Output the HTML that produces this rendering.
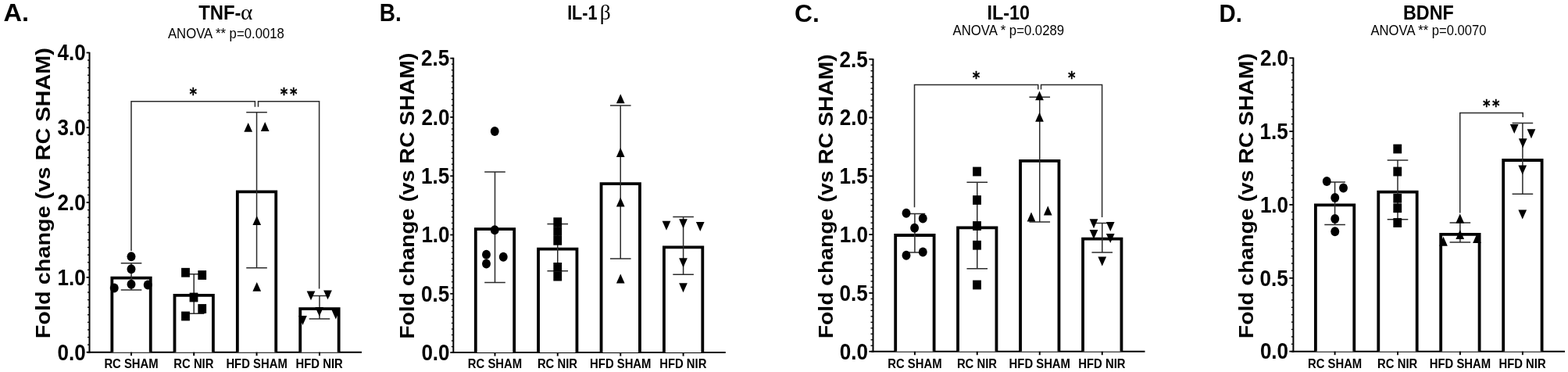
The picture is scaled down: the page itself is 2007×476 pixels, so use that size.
<!DOCTYPE html>
<html><head><meta charset="utf-8"><title>Cytokine and BDNF fold change</title>
<style>html,body{margin:0;padding:0;background:#fff;}svg{display:block;}</style></head>
<body><svg width="2007" height="476" viewBox="0 0 2007 476">
<defs><filter id="soft" x="-1%" y="-1%" width="102%" height="102%" color-interpolation-filters="sRGB"><feGaussianBlur stdDeviation="0.35"/></filter></defs>
<rect width="2007" height="476" fill="#fff"/>
<g filter="url(#soft)">
<line x1="110.60" y1="450.70" x2="114.50" y2="450.70" stroke="#000" stroke-width="1.8"/>
<line x1="112.00" y1="441.12" x2="114.50" y2="441.12" stroke="#000" stroke-width="1.3"/>
<line x1="112.00" y1="431.54" x2="114.50" y2="431.54" stroke="#000" stroke-width="1.3"/>
<line x1="112.00" y1="421.96" x2="114.50" y2="421.96" stroke="#000" stroke-width="1.3"/>
<line x1="112.00" y1="412.38" x2="114.50" y2="412.38" stroke="#000" stroke-width="1.3"/>
<line x1="112.00" y1="402.79" x2="114.50" y2="402.79" stroke="#000" stroke-width="1.3"/>
<line x1="112.00" y1="393.21" x2="114.50" y2="393.21" stroke="#000" stroke-width="1.3"/>
<line x1="112.00" y1="383.63" x2="114.50" y2="383.63" stroke="#000" stroke-width="1.3"/>
<line x1="112.00" y1="374.05" x2="114.50" y2="374.05" stroke="#000" stroke-width="1.3"/>
<line x1="112.00" y1="364.47" x2="114.50" y2="364.47" stroke="#000" stroke-width="1.3"/>
<line x1="110.60" y1="354.89" x2="114.50" y2="354.89" stroke="#000" stroke-width="1.8"/>
<line x1="112.00" y1="345.31" x2="114.50" y2="345.31" stroke="#000" stroke-width="1.3"/>
<line x1="112.00" y1="335.72" x2="114.50" y2="335.72" stroke="#000" stroke-width="1.3"/>
<line x1="112.00" y1="326.14" x2="114.50" y2="326.14" stroke="#000" stroke-width="1.3"/>
<line x1="112.00" y1="316.56" x2="114.50" y2="316.56" stroke="#000" stroke-width="1.3"/>
<line x1="112.00" y1="306.98" x2="114.50" y2="306.98" stroke="#000" stroke-width="1.3"/>
<line x1="112.00" y1="297.40" x2="114.50" y2="297.40" stroke="#000" stroke-width="1.3"/>
<line x1="112.00" y1="287.82" x2="114.50" y2="287.82" stroke="#000" stroke-width="1.3"/>
<line x1="112.00" y1="278.24" x2="114.50" y2="278.24" stroke="#000" stroke-width="1.3"/>
<line x1="112.00" y1="268.66" x2="114.50" y2="268.66" stroke="#000" stroke-width="1.3"/>
<line x1="110.60" y1="259.07" x2="114.50" y2="259.07" stroke="#000" stroke-width="1.8"/>
<line x1="112.00" y1="249.49" x2="114.50" y2="249.49" stroke="#000" stroke-width="1.3"/>
<line x1="112.00" y1="239.91" x2="114.50" y2="239.91" stroke="#000" stroke-width="1.3"/>
<line x1="112.00" y1="230.33" x2="114.50" y2="230.33" stroke="#000" stroke-width="1.3"/>
<line x1="112.00" y1="220.75" x2="114.50" y2="220.75" stroke="#000" stroke-width="1.3"/>
<line x1="112.00" y1="211.17" x2="114.50" y2="211.17" stroke="#000" stroke-width="1.3"/>
<line x1="112.00" y1="201.59" x2="114.50" y2="201.59" stroke="#000" stroke-width="1.3"/>
<line x1="112.00" y1="192.01" x2="114.50" y2="192.01" stroke="#000" stroke-width="1.3"/>
<line x1="112.00" y1="182.42" x2="114.50" y2="182.42" stroke="#000" stroke-width="1.3"/>
<line x1="112.00" y1="172.84" x2="114.50" y2="172.84" stroke="#000" stroke-width="1.3"/>
<line x1="110.60" y1="163.26" x2="114.50" y2="163.26" stroke="#000" stroke-width="1.8"/>
<line x1="112.00" y1="153.68" x2="114.50" y2="153.68" stroke="#000" stroke-width="1.3"/>
<line x1="112.00" y1="144.10" x2="114.50" y2="144.10" stroke="#000" stroke-width="1.3"/>
<line x1="112.00" y1="134.52" x2="114.50" y2="134.52" stroke="#000" stroke-width="1.3"/>
<line x1="112.00" y1="124.94" x2="114.50" y2="124.94" stroke="#000" stroke-width="1.3"/>
<line x1="112.00" y1="115.36" x2="114.50" y2="115.36" stroke="#000" stroke-width="1.3"/>
<line x1="112.00" y1="105.77" x2="114.50" y2="105.77" stroke="#000" stroke-width="1.3"/>
<line x1="112.00" y1="96.19" x2="114.50" y2="96.19" stroke="#000" stroke-width="1.3"/>
<line x1="112.00" y1="86.61" x2="114.50" y2="86.61" stroke="#000" stroke-width="1.3"/>
<line x1="112.00" y1="77.03" x2="114.50" y2="77.03" stroke="#000" stroke-width="1.3"/>
<line x1="110.60" y1="67.45" x2="114.50" y2="67.45" stroke="#000" stroke-width="1.8"/>
<line x1="114.50" y1="66.65" x2="114.50" y2="451.70" stroke="#000" stroke-width="2.0"/>
<line x1="112.00" y1="450.70" x2="463.00" y2="450.70" stroke="#000" stroke-width="2.0"/>
<text x="73.49" y="460.50" font-family="'Liberation Sans', Arial, sans-serif" font-weight="bold" font-size="28.8" textLength="36.23" lengthAdjust="spacingAndGlyphs">0.0</text>
<text x="73.49" y="364.69" font-family="'Liberation Sans', Arial, sans-serif" font-weight="bold" font-size="28.8" textLength="36.23" lengthAdjust="spacingAndGlyphs">1.0</text>
<text x="73.49" y="268.88" font-family="'Liberation Sans', Arial, sans-serif" font-weight="bold" font-size="28.8" textLength="36.23" lengthAdjust="spacingAndGlyphs">2.0</text>
<text x="73.49" y="173.06" font-family="'Liberation Sans', Arial, sans-serif" font-weight="bold" font-size="28.8" textLength="36.23" lengthAdjust="spacingAndGlyphs">3.0</text>
<text x="73.49" y="77.25" font-family="'Liberation Sans', Arial, sans-serif" font-weight="bold" font-size="28.8" textLength="36.23" lengthAdjust="spacingAndGlyphs">4.0</text>
<path d="M143.35,450.70 V355.65 H192.75 V450.70" fill="#fff" stroke="#000" stroke-width="3.8" stroke-linejoin="miter"/>
<line x1="168.05" y1="450.70" x2="168.05" y2="455.20" stroke="#000" stroke-width="2.0"/>
<path d="M223.50,450.70 V377.80 H272.90 V450.70" fill="#fff" stroke="#000" stroke-width="3.8" stroke-linejoin="miter"/>
<line x1="248.20" y1="450.70" x2="248.20" y2="455.20" stroke="#000" stroke-width="2.0"/>
<path d="M303.85,450.70 V245.40 H353.25 V450.70" fill="#fff" stroke="#000" stroke-width="3.8" stroke-linejoin="miter"/>
<line x1="328.55" y1="450.70" x2="328.55" y2="455.20" stroke="#000" stroke-width="2.0"/>
<path d="M384.25,450.70 V395.20 H433.65 V450.70" fill="#fff" stroke="#000" stroke-width="3.8" stroke-linejoin="miter"/>
<line x1="408.95" y1="450.70" x2="408.95" y2="455.20" stroke="#000" stroke-width="2.0"/>
<text x="133.40" y="470.60" font-family="'Liberation Sans', Arial, sans-serif" font-weight="bold" font-size="16.5" textLength="69.30" lengthAdjust="spacingAndGlyphs">RC SHAM</text>
<text x="222.32" y="470.60" font-family="'Liberation Sans', Arial, sans-serif" font-weight="bold" font-size="16.5" textLength="51.15" lengthAdjust="spacingAndGlyphs">RC NIR</text>
<text x="289.40" y="470.60" font-family="'Liberation Sans', Arial, sans-serif" font-weight="bold" font-size="16.5" textLength="78.37" lengthAdjust="spacingAndGlyphs">HFD SHAM</text>
<text x="378.53" y="470.60" font-family="'Liberation Sans', Arial, sans-serif" font-weight="bold" font-size="16.5" textLength="60.22" lengthAdjust="spacingAndGlyphs">HFD NIR</text>
<line x1="168.05" y1="336.75" x2="168.05" y2="371.00" stroke="#2b2b2b" stroke-width="1.5"/>
<line x1="154.75" y1="336.75" x2="181.35" y2="336.75" stroke="#2b2b2b" stroke-width="1.5"/>
<line x1="154.75" y1="371.00" x2="181.35" y2="371.00" stroke="#2b2b2b" stroke-width="1.5"/>
<line x1="248.20" y1="350.75" x2="248.20" y2="401.25" stroke="#2b2b2b" stroke-width="1.5"/>
<line x1="234.90" y1="350.75" x2="261.50" y2="350.75" stroke="#2b2b2b" stroke-width="1.5"/>
<line x1="234.90" y1="401.25" x2="261.50" y2="401.25" stroke="#2b2b2b" stroke-width="1.5"/>
<line x1="328.55" y1="143.70" x2="328.55" y2="342.75" stroke="#2b2b2b" stroke-width="1.5"/>
<line x1="315.25" y1="143.70" x2="341.85" y2="143.70" stroke="#2b2b2b" stroke-width="1.5"/>
<line x1="315.25" y1="342.75" x2="341.85" y2="342.75" stroke="#2b2b2b" stroke-width="1.5"/>
<line x1="408.95" y1="378.50" x2="408.95" y2="408.00" stroke="#2b2b2b" stroke-width="1.5"/>
<line x1="395.65" y1="378.50" x2="422.25" y2="378.50" stroke="#2b2b2b" stroke-width="1.5"/>
<line x1="395.65" y1="408.00" x2="422.25" y2="408.00" stroke="#2b2b2b" stroke-width="1.5"/>
<polyline points="168.00,321.00 168.00,129.70 326.40,129.70 326.40,136.80" fill="none" stroke="#2b2b2b" stroke-width="1.5" stroke-linejoin="miter"/>
<polyline points="330.50,136.80 330.50,129.70 408.60,129.70 408.60,369.50" fill="none" stroke="#2b2b2b" stroke-width="1.5" stroke-linejoin="miter"/>
<ellipse cx="168.00" cy="328.25" rx="5.45" ry="6.0" fill="#000"/>
<ellipse cx="168.00" cy="344.25" rx="5.45" ry="6.0" fill="#000"/>
<ellipse cx="168.00" cy="363.75" rx="5.45" ry="6.0" fill="#000"/>
<ellipse cx="146.25" cy="368.50" rx="5.45" ry="6.0" fill="#000"/>
<ellipse cx="189.25" cy="364.50" rx="5.45" ry="6.0" fill="#000"/>
<rect x="232.10" y="342.85" width="10.80" height="11.80" fill="#000"/>
<rect x="253.35" y="346.10" width="10.80" height="11.80" fill="#000"/>
<rect x="242.60" y="374.60" width="10.80" height="11.80" fill="#000"/>
<rect x="253.35" y="389.10" width="10.80" height="11.80" fill="#000"/>
<rect x="232.10" y="398.60" width="10.80" height="11.80" fill="#000"/>
<polygon points="317.70,156.90 312.35,168.70 323.05,168.70" fill="#000"/>
<polygon points="339.20,156.10 333.85,167.90 344.55,167.90" fill="#000"/>
<polygon points="328.75,276.20 323.40,288.00 334.10,288.00" fill="#000"/>
<polygon points="328.75,361.00 323.40,372.80 334.10,372.80" fill="#000"/>
<polygon points="398.00,384.20 392.65,372.40 403.35,372.40" fill="#000"/>
<polygon points="419.50,383.20 414.15,371.40 424.85,371.40" fill="#000"/>
<polygon points="408.75,404.80 403.40,393.00 414.10,393.00" fill="#000"/>
<polygon points="429.80,408.40 424.45,396.60 435.15,396.60" fill="#000"/>
<polygon points="387.50,415.90 382.15,404.10 392.85,404.10" fill="#000"/>
<text transform="translate(0,128.16) scale(1,1.19)" x="247.35" y="0" text-anchor="middle" font-family="'DejaVu Sans', sans-serif" font-weight="bold" font-size="18.2" stroke="#000" stroke-width="0.3">*</text>
<text transform="translate(0,128.16) scale(1,1.19)" x="363.62 375.77" y="0" text-anchor="middle" font-family="'DejaVu Sans', sans-serif" font-weight="bold" font-size="18.2" stroke="#000" stroke-width="0.3">**</text>
<text transform="translate(63.60,433.29) rotate(-90)" x="0" y="0" font-family="'Liberation Sans', Arial, sans-serif" font-weight="bold" font-size="26" textLength="372.25" lengthAdjust="spacingAndGlyphs">Fold change (vs RC SHAM)</text>
<text x="4.59" y="26.80" font-family="'Liberation Sans', Arial, sans-serif" font-weight="bold" font-size="32.2" textLength="32.53" lengthAdjust="spacingAndGlyphs">A.</text>
<text x="254.13" y="25.00" font-family="'Liberation Sans', Arial, sans-serif" font-weight="bold" font-size="26.5" textLength="54.41" lengthAdjust="spacingAndGlyphs">TNF-</text>
<text x="307.93" y="25.00" font-family="'Liberation Serif', 'Times New Roman', serif" font-weight="normal" font-size="27.5" textLength="15.42" lengthAdjust="spacingAndGlyphs">α</text>
<text x="214.91" y="48.50" font-family="'Liberation Sans', Arial, sans-serif" font-weight="normal" font-size="17.7" textLength="148.96" lengthAdjust="spacingAndGlyphs">ANOVA ** p=0.0018</text>
<line x1="576.30" y1="451.10" x2="580.30" y2="451.10" stroke="#000" stroke-width="1.8"/>
<line x1="577.80" y1="443.57" x2="580.30" y2="443.57" stroke="#000" stroke-width="1.3"/>
<line x1="577.80" y1="436.04" x2="580.30" y2="436.04" stroke="#000" stroke-width="1.3"/>
<line x1="577.80" y1="428.51" x2="580.30" y2="428.51" stroke="#000" stroke-width="1.3"/>
<line x1="577.80" y1="420.98" x2="580.30" y2="420.98" stroke="#000" stroke-width="1.3"/>
<line x1="577.80" y1="413.45" x2="580.30" y2="413.45" stroke="#000" stroke-width="1.3"/>
<line x1="577.80" y1="405.92" x2="580.30" y2="405.92" stroke="#000" stroke-width="1.3"/>
<line x1="577.80" y1="398.39" x2="580.30" y2="398.39" stroke="#000" stroke-width="1.3"/>
<line x1="577.80" y1="390.86" x2="580.30" y2="390.86" stroke="#000" stroke-width="1.3"/>
<line x1="577.80" y1="383.33" x2="580.30" y2="383.33" stroke="#000" stroke-width="1.3"/>
<line x1="576.30" y1="375.80" x2="580.30" y2="375.80" stroke="#000" stroke-width="1.8"/>
<line x1="577.80" y1="368.27" x2="580.30" y2="368.27" stroke="#000" stroke-width="1.3"/>
<line x1="577.80" y1="360.74" x2="580.30" y2="360.74" stroke="#000" stroke-width="1.3"/>
<line x1="577.80" y1="353.21" x2="580.30" y2="353.21" stroke="#000" stroke-width="1.3"/>
<line x1="577.80" y1="345.68" x2="580.30" y2="345.68" stroke="#000" stroke-width="1.3"/>
<line x1="577.80" y1="338.15" x2="580.30" y2="338.15" stroke="#000" stroke-width="1.3"/>
<line x1="577.80" y1="330.62" x2="580.30" y2="330.62" stroke="#000" stroke-width="1.3"/>
<line x1="577.80" y1="323.09" x2="580.30" y2="323.09" stroke="#000" stroke-width="1.3"/>
<line x1="577.80" y1="315.56" x2="580.30" y2="315.56" stroke="#000" stroke-width="1.3"/>
<line x1="577.80" y1="308.03" x2="580.30" y2="308.03" stroke="#000" stroke-width="1.3"/>
<line x1="576.30" y1="300.50" x2="580.30" y2="300.50" stroke="#000" stroke-width="1.8"/>
<line x1="577.80" y1="292.97" x2="580.30" y2="292.97" stroke="#000" stroke-width="1.3"/>
<line x1="577.80" y1="285.44" x2="580.30" y2="285.44" stroke="#000" stroke-width="1.3"/>
<line x1="577.80" y1="277.91" x2="580.30" y2="277.91" stroke="#000" stroke-width="1.3"/>
<line x1="577.80" y1="270.38" x2="580.30" y2="270.38" stroke="#000" stroke-width="1.3"/>
<line x1="577.80" y1="262.85" x2="580.30" y2="262.85" stroke="#000" stroke-width="1.3"/>
<line x1="577.80" y1="255.32" x2="580.30" y2="255.32" stroke="#000" stroke-width="1.3"/>
<line x1="577.80" y1="247.79" x2="580.30" y2="247.79" stroke="#000" stroke-width="1.3"/>
<line x1="577.80" y1="240.26" x2="580.30" y2="240.26" stroke="#000" stroke-width="1.3"/>
<line x1="577.80" y1="232.73" x2="580.30" y2="232.73" stroke="#000" stroke-width="1.3"/>
<line x1="576.30" y1="225.20" x2="580.30" y2="225.20" stroke="#000" stroke-width="1.8"/>
<line x1="577.80" y1="217.67" x2="580.30" y2="217.67" stroke="#000" stroke-width="1.3"/>
<line x1="577.80" y1="210.14" x2="580.30" y2="210.14" stroke="#000" stroke-width="1.3"/>
<line x1="577.80" y1="202.61" x2="580.30" y2="202.61" stroke="#000" stroke-width="1.3"/>
<line x1="577.80" y1="195.08" x2="580.30" y2="195.08" stroke="#000" stroke-width="1.3"/>
<line x1="577.80" y1="187.55" x2="580.30" y2="187.55" stroke="#000" stroke-width="1.3"/>
<line x1="577.80" y1="180.02" x2="580.30" y2="180.02" stroke="#000" stroke-width="1.3"/>
<line x1="577.80" y1="172.49" x2="580.30" y2="172.49" stroke="#000" stroke-width="1.3"/>
<line x1="577.80" y1="164.96" x2="580.30" y2="164.96" stroke="#000" stroke-width="1.3"/>
<line x1="577.80" y1="157.43" x2="580.30" y2="157.43" stroke="#000" stroke-width="1.3"/>
<line x1="576.30" y1="149.90" x2="580.30" y2="149.90" stroke="#000" stroke-width="1.8"/>
<line x1="577.80" y1="142.37" x2="580.30" y2="142.37" stroke="#000" stroke-width="1.3"/>
<line x1="577.80" y1="134.84" x2="580.30" y2="134.84" stroke="#000" stroke-width="1.3"/>
<line x1="577.80" y1="127.31" x2="580.30" y2="127.31" stroke="#000" stroke-width="1.3"/>
<line x1="577.80" y1="119.78" x2="580.30" y2="119.78" stroke="#000" stroke-width="1.3"/>
<line x1="577.80" y1="112.25" x2="580.30" y2="112.25" stroke="#000" stroke-width="1.3"/>
<line x1="577.80" y1="104.72" x2="580.30" y2="104.72" stroke="#000" stroke-width="1.3"/>
<line x1="577.80" y1="97.19" x2="580.30" y2="97.19" stroke="#000" stroke-width="1.3"/>
<line x1="577.80" y1="89.66" x2="580.30" y2="89.66" stroke="#000" stroke-width="1.3"/>
<line x1="577.80" y1="82.13" x2="580.30" y2="82.13" stroke="#000" stroke-width="1.3"/>
<line x1="576.30" y1="74.60" x2="580.30" y2="74.60" stroke="#000" stroke-width="1.8"/>
<line x1="580.30" y1="73.80" x2="580.30" y2="452.10" stroke="#000" stroke-width="2.0"/>
<line x1="577.80" y1="451.10" x2="928.75" y2="451.10" stroke="#000" stroke-width="2.0"/>
<text x="539.39" y="460.90" font-family="'Liberation Sans', Arial, sans-serif" font-weight="bold" font-size="28.8" textLength="36.23" lengthAdjust="spacingAndGlyphs">0.0</text>
<text x="539.02" y="385.60" font-family="'Liberation Sans', Arial, sans-serif" font-weight="bold" font-size="28.8" textLength="36.23" lengthAdjust="spacingAndGlyphs">0.5</text>
<text x="539.39" y="310.30" font-family="'Liberation Sans', Arial, sans-serif" font-weight="bold" font-size="28.8" textLength="36.23" lengthAdjust="spacingAndGlyphs">1.0</text>
<text x="539.02" y="235.00" font-family="'Liberation Sans', Arial, sans-serif" font-weight="bold" font-size="28.8" textLength="36.23" lengthAdjust="spacingAndGlyphs">1.5</text>
<text x="539.39" y="159.70" font-family="'Liberation Sans', Arial, sans-serif" font-weight="bold" font-size="28.8" textLength="36.23" lengthAdjust="spacingAndGlyphs">2.0</text>
<text x="539.02" y="84.40" font-family="'Liberation Sans', Arial, sans-serif" font-weight="bold" font-size="28.8" textLength="36.23" lengthAdjust="spacingAndGlyphs">2.5</text>
<path d="M608.80,451.10 V293.15 H658.20 V451.10" fill="#fff" stroke="#000" stroke-width="3.8" stroke-linejoin="miter"/>
<line x1="633.50" y1="451.10" x2="633.50" y2="455.60" stroke="#000" stroke-width="2.0"/>
<path d="M689.05,451.10 V318.60 H738.45 V451.10" fill="#fff" stroke="#000" stroke-width="3.8" stroke-linejoin="miter"/>
<line x1="713.75" y1="451.10" x2="713.75" y2="455.60" stroke="#000" stroke-width="2.0"/>
<path d="M769.55,451.10 V235.15 H818.95 V451.10" fill="#fff" stroke="#000" stroke-width="3.8" stroke-linejoin="miter"/>
<line x1="794.25" y1="451.10" x2="794.25" y2="455.60" stroke="#000" stroke-width="2.0"/>
<path d="M849.90,451.10 V316.40 H899.30 V451.10" fill="#fff" stroke="#000" stroke-width="3.8" stroke-linejoin="miter"/>
<line x1="874.60" y1="451.10" x2="874.60" y2="455.60" stroke="#000" stroke-width="2.0"/>
<text x="598.85" y="470.60" font-family="'Liberation Sans', Arial, sans-serif" font-weight="bold" font-size="16.5" textLength="69.30" lengthAdjust="spacingAndGlyphs">RC SHAM</text>
<text x="687.88" y="470.60" font-family="'Liberation Sans', Arial, sans-serif" font-weight="bold" font-size="16.5" textLength="51.15" lengthAdjust="spacingAndGlyphs">RC NIR</text>
<text x="755.10" y="470.60" font-family="'Liberation Sans', Arial, sans-serif" font-weight="bold" font-size="16.5" textLength="78.37" lengthAdjust="spacingAndGlyphs">HFD SHAM</text>
<text x="844.18" y="470.60" font-family="'Liberation Sans', Arial, sans-serif" font-weight="bold" font-size="16.5" textLength="60.22" lengthAdjust="spacingAndGlyphs">HFD NIR</text>
<line x1="633.50" y1="220.00" x2="633.50" y2="361.50" stroke="#2b2b2b" stroke-width="1.5"/>
<line x1="620.20" y1="220.00" x2="646.80" y2="220.00" stroke="#2b2b2b" stroke-width="1.5"/>
<line x1="620.20" y1="361.50" x2="646.80" y2="361.50" stroke="#2b2b2b" stroke-width="1.5"/>
<line x1="713.75" y1="286.60" x2="713.75" y2="346.70" stroke="#2b2b2b" stroke-width="1.5"/>
<line x1="700.45" y1="286.60" x2="727.05" y2="286.60" stroke="#2b2b2b" stroke-width="1.5"/>
<line x1="700.45" y1="346.70" x2="727.05" y2="346.70" stroke="#2b2b2b" stroke-width="1.5"/>
<line x1="794.25" y1="135.00" x2="794.25" y2="331.00" stroke="#2b2b2b" stroke-width="1.5"/>
<line x1="780.95" y1="135.00" x2="807.55" y2="135.00" stroke="#2b2b2b" stroke-width="1.5"/>
<line x1="780.95" y1="331.00" x2="807.55" y2="331.00" stroke="#2b2b2b" stroke-width="1.5"/>
<line x1="874.60" y1="277.50" x2="874.60" y2="351.25" stroke="#2b2b2b" stroke-width="1.5"/>
<line x1="861.30" y1="277.50" x2="887.90" y2="277.50" stroke="#2b2b2b" stroke-width="1.5"/>
<line x1="861.30" y1="351.25" x2="887.90" y2="351.25" stroke="#2b2b2b" stroke-width="1.5"/>
<ellipse cx="633.25" cy="168.00" rx="5.45" ry="6.0" fill="#000"/>
<ellipse cx="633.25" cy="294.25" rx="5.45" ry="6.0" fill="#000"/>
<ellipse cx="622.50" cy="325.75" rx="5.45" ry="6.0" fill="#000"/>
<ellipse cx="622.50" cy="337.50" rx="5.45" ry="6.0" fill="#000"/>
<ellipse cx="644.25" cy="328.75" rx="5.45" ry="6.0" fill="#000"/>
<rect x="708.35" y="278.30" width="10.80" height="11.80" fill="#000"/>
<rect x="708.35" y="290.10" width="10.80" height="11.80" fill="#000"/>
<rect x="708.35" y="301.90" width="10.80" height="11.80" fill="#000"/>
<rect x="708.35" y="336.00" width="10.80" height="11.80" fill="#000"/>
<rect x="708.35" y="347.70" width="10.80" height="11.80" fill="#000"/>
<polygon points="794.25,120.35 788.90,132.15 799.60,132.15" fill="#000"/>
<polygon points="794.25,189.10 788.90,200.90 799.60,200.90" fill="#000"/>
<polygon points="794.25,252.60 788.90,264.40 799.60,264.40" fill="#000"/>
<polygon points="794.25,350.60 788.90,362.40 799.60,362.40" fill="#000"/>
<polygon points="853.00,294.65 847.65,282.85 858.35,282.85" fill="#000"/>
<polygon points="874.50,292.15 869.15,280.35 879.85,280.35" fill="#000"/>
<polygon points="896.25,295.90 890.90,284.10 901.60,284.10" fill="#000"/>
<polygon points="874.50,342.15 869.15,330.35 879.85,330.35" fill="#000"/>
<polygon points="874.50,374.15 869.15,362.35 879.85,362.35" fill="#000"/>
<text transform="translate(530.00,433.86) rotate(-90)" x="0" y="0" font-family="'Liberation Sans', Arial, sans-serif" font-weight="bold" font-size="26" textLength="366.30" lengthAdjust="spacingAndGlyphs">Fold change (vs RC SHAM)</text>
<text x="485.78" y="27.20" font-family="'Liberation Sans', Arial, sans-serif" font-weight="bold" font-size="32.2" textLength="28.03" lengthAdjust="spacingAndGlyphs">B.</text>
<text x="726.13" y="24.70" font-family="'Liberation Sans', Arial, sans-serif" font-weight="bold" font-size="26.5" textLength="38.34" lengthAdjust="spacingAndGlyphs">IL-1</text>
<text x="767.70" y="24.70" font-family="'Liberation Serif', 'Times New Roman', serif" font-weight="normal" font-size="27.5" textLength="13.99" lengthAdjust="spacingAndGlyphs">β</text>
<line x1="1112.30" y1="449.75" x2="1117.50" y2="449.75" stroke="#000" stroke-width="1.8"/>
<line x1="1114.50" y1="442.27" x2="1117.50" y2="442.27" stroke="#000" stroke-width="1.3"/>
<line x1="1114.50" y1="434.79" x2="1117.50" y2="434.79" stroke="#000" stroke-width="1.3"/>
<line x1="1114.50" y1="427.31" x2="1117.50" y2="427.31" stroke="#000" stroke-width="1.3"/>
<line x1="1114.50" y1="419.83" x2="1117.50" y2="419.83" stroke="#000" stroke-width="1.3"/>
<line x1="1114.50" y1="412.35" x2="1117.50" y2="412.35" stroke="#000" stroke-width="1.3"/>
<line x1="1114.50" y1="404.86" x2="1117.50" y2="404.86" stroke="#000" stroke-width="1.3"/>
<line x1="1114.50" y1="397.38" x2="1117.50" y2="397.38" stroke="#000" stroke-width="1.3"/>
<line x1="1114.50" y1="389.90" x2="1117.50" y2="389.90" stroke="#000" stroke-width="1.3"/>
<line x1="1114.50" y1="382.42" x2="1117.50" y2="382.42" stroke="#000" stroke-width="1.3"/>
<line x1="1112.30" y1="374.94" x2="1117.50" y2="374.94" stroke="#000" stroke-width="1.8"/>
<line x1="1114.50" y1="367.46" x2="1117.50" y2="367.46" stroke="#000" stroke-width="1.3"/>
<line x1="1114.50" y1="359.98" x2="1117.50" y2="359.98" stroke="#000" stroke-width="1.3"/>
<line x1="1114.50" y1="352.50" x2="1117.50" y2="352.50" stroke="#000" stroke-width="1.3"/>
<line x1="1114.50" y1="345.02" x2="1117.50" y2="345.02" stroke="#000" stroke-width="1.3"/>
<line x1="1114.50" y1="337.53" x2="1117.50" y2="337.53" stroke="#000" stroke-width="1.3"/>
<line x1="1114.50" y1="330.05" x2="1117.50" y2="330.05" stroke="#000" stroke-width="1.3"/>
<line x1="1114.50" y1="322.57" x2="1117.50" y2="322.57" stroke="#000" stroke-width="1.3"/>
<line x1="1114.50" y1="315.09" x2="1117.50" y2="315.09" stroke="#000" stroke-width="1.3"/>
<line x1="1114.50" y1="307.61" x2="1117.50" y2="307.61" stroke="#000" stroke-width="1.3"/>
<line x1="1112.30" y1="300.13" x2="1117.50" y2="300.13" stroke="#000" stroke-width="1.8"/>
<line x1="1114.50" y1="292.65" x2="1117.50" y2="292.65" stroke="#000" stroke-width="1.3"/>
<line x1="1114.50" y1="285.17" x2="1117.50" y2="285.17" stroke="#000" stroke-width="1.3"/>
<line x1="1114.50" y1="277.69" x2="1117.50" y2="277.69" stroke="#000" stroke-width="1.3"/>
<line x1="1114.50" y1="270.21" x2="1117.50" y2="270.21" stroke="#000" stroke-width="1.3"/>
<line x1="1114.50" y1="262.73" x2="1117.50" y2="262.73" stroke="#000" stroke-width="1.3"/>
<line x1="1114.50" y1="255.24" x2="1117.50" y2="255.24" stroke="#000" stroke-width="1.3"/>
<line x1="1114.50" y1="247.76" x2="1117.50" y2="247.76" stroke="#000" stroke-width="1.3"/>
<line x1="1114.50" y1="240.28" x2="1117.50" y2="240.28" stroke="#000" stroke-width="1.3"/>
<line x1="1114.50" y1="232.80" x2="1117.50" y2="232.80" stroke="#000" stroke-width="1.3"/>
<line x1="1112.30" y1="225.32" x2="1117.50" y2="225.32" stroke="#000" stroke-width="1.8"/>
<line x1="1114.50" y1="217.84" x2="1117.50" y2="217.84" stroke="#000" stroke-width="1.3"/>
<line x1="1114.50" y1="210.36" x2="1117.50" y2="210.36" stroke="#000" stroke-width="1.3"/>
<line x1="1114.50" y1="202.88" x2="1117.50" y2="202.88" stroke="#000" stroke-width="1.3"/>
<line x1="1114.50" y1="195.40" x2="1117.50" y2="195.40" stroke="#000" stroke-width="1.3"/>
<line x1="1114.50" y1="187.91" x2="1117.50" y2="187.91" stroke="#000" stroke-width="1.3"/>
<line x1="1114.50" y1="180.43" x2="1117.50" y2="180.43" stroke="#000" stroke-width="1.3"/>
<line x1="1114.50" y1="172.95" x2="1117.50" y2="172.95" stroke="#000" stroke-width="1.3"/>
<line x1="1114.50" y1="165.47" x2="1117.50" y2="165.47" stroke="#000" stroke-width="1.3"/>
<line x1="1114.50" y1="157.99" x2="1117.50" y2="157.99" stroke="#000" stroke-width="1.3"/>
<line x1="1112.30" y1="150.51" x2="1117.50" y2="150.51" stroke="#000" stroke-width="1.8"/>
<line x1="1114.50" y1="143.03" x2="1117.50" y2="143.03" stroke="#000" stroke-width="1.3"/>
<line x1="1114.50" y1="135.55" x2="1117.50" y2="135.55" stroke="#000" stroke-width="1.3"/>
<line x1="1114.50" y1="128.07" x2="1117.50" y2="128.07" stroke="#000" stroke-width="1.3"/>
<line x1="1114.50" y1="120.59" x2="1117.50" y2="120.59" stroke="#000" stroke-width="1.3"/>
<line x1="1114.50" y1="113.11" x2="1117.50" y2="113.11" stroke="#000" stroke-width="1.3"/>
<line x1="1114.50" y1="105.62" x2="1117.50" y2="105.62" stroke="#000" stroke-width="1.3"/>
<line x1="1114.50" y1="98.14" x2="1117.50" y2="98.14" stroke="#000" stroke-width="1.3"/>
<line x1="1114.50" y1="90.66" x2="1117.50" y2="90.66" stroke="#000" stroke-width="1.3"/>
<line x1="1114.50" y1="83.18" x2="1117.50" y2="83.18" stroke="#000" stroke-width="1.3"/>
<line x1="1112.30" y1="75.70" x2="1117.50" y2="75.70" stroke="#000" stroke-width="1.8"/>
<line x1="1117.50" y1="74.90" x2="1117.50" y2="450.75" stroke="#000" stroke-width="2.0"/>
<line x1="1115.00" y1="449.75" x2="1465.50" y2="449.75" stroke="#000" stroke-width="2.0"/>
<text x="1074.79" y="459.55" font-family="'Liberation Sans', Arial, sans-serif" font-weight="bold" font-size="28.8" textLength="36.23" lengthAdjust="spacingAndGlyphs">0.0</text>
<text x="1074.42" y="384.74" font-family="'Liberation Sans', Arial, sans-serif" font-weight="bold" font-size="28.8" textLength="36.23" lengthAdjust="spacingAndGlyphs">0.5</text>
<text x="1074.79" y="309.93" font-family="'Liberation Sans', Arial, sans-serif" font-weight="bold" font-size="28.8" textLength="36.23" lengthAdjust="spacingAndGlyphs">1.0</text>
<text x="1074.42" y="235.12" font-family="'Liberation Sans', Arial, sans-serif" font-weight="bold" font-size="28.8" textLength="36.23" lengthAdjust="spacingAndGlyphs">1.5</text>
<text x="1074.79" y="160.31" font-family="'Liberation Sans', Arial, sans-serif" font-weight="bold" font-size="28.8" textLength="36.23" lengthAdjust="spacingAndGlyphs">2.0</text>
<text x="1074.42" y="85.50" font-family="'Liberation Sans', Arial, sans-serif" font-weight="bold" font-size="28.8" textLength="36.23" lengthAdjust="spacingAndGlyphs">2.5</text>
<path d="M1146.20,449.75 V301.00 H1195.60 V449.75" fill="#fff" stroke="#000" stroke-width="3.8" stroke-linejoin="miter"/>
<line x1="1170.90" y1="449.75" x2="1170.90" y2="454.25" stroke="#000" stroke-width="2.0"/>
<path d="M1226.05,449.75 V291.40 H1275.45 V449.75" fill="#fff" stroke="#000" stroke-width="3.8" stroke-linejoin="miter"/>
<line x1="1250.75" y1="449.75" x2="1250.75" y2="454.25" stroke="#000" stroke-width="2.0"/>
<path d="M1306.05,449.75 V205.90 H1355.45 V449.75" fill="#fff" stroke="#000" stroke-width="3.8" stroke-linejoin="miter"/>
<line x1="1330.75" y1="449.75" x2="1330.75" y2="454.25" stroke="#000" stroke-width="2.0"/>
<path d="M1386.05,449.75 V305.65 H1435.45 V449.75" fill="#fff" stroke="#000" stroke-width="3.8" stroke-linejoin="miter"/>
<line x1="1410.75" y1="449.75" x2="1410.75" y2="454.25" stroke="#000" stroke-width="2.0"/>
<text x="1136.25" y="470.60" font-family="'Liberation Sans', Arial, sans-serif" font-weight="bold" font-size="16.5" textLength="69.30" lengthAdjust="spacingAndGlyphs">RC SHAM</text>
<text x="1224.88" y="470.60" font-family="'Liberation Sans', Arial, sans-serif" font-weight="bold" font-size="16.5" textLength="51.15" lengthAdjust="spacingAndGlyphs">RC NIR</text>
<text x="1291.60" y="470.60" font-family="'Liberation Sans', Arial, sans-serif" font-weight="bold" font-size="16.5" textLength="78.37" lengthAdjust="spacingAndGlyphs">HFD SHAM</text>
<text x="1380.33" y="470.60" font-family="'Liberation Sans', Arial, sans-serif" font-weight="bold" font-size="16.5" textLength="60.22" lengthAdjust="spacingAndGlyphs">HFD NIR</text>
<line x1="1170.90" y1="273.50" x2="1170.90" y2="323.00" stroke="#2b2b2b" stroke-width="1.5"/>
<line x1="1157.60" y1="273.50" x2="1184.20" y2="273.50" stroke="#2b2b2b" stroke-width="1.5"/>
<line x1="1157.60" y1="323.00" x2="1184.20" y2="323.00" stroke="#2b2b2b" stroke-width="1.5"/>
<line x1="1250.75" y1="233.25" x2="1250.75" y2="343.75" stroke="#2b2b2b" stroke-width="1.5"/>
<line x1="1237.45" y1="233.25" x2="1264.05" y2="233.25" stroke="#2b2b2b" stroke-width="1.5"/>
<line x1="1237.45" y1="343.75" x2="1264.05" y2="343.75" stroke="#2b2b2b" stroke-width="1.5"/>
<line x1="1330.75" y1="124.25" x2="1330.75" y2="284.00" stroke="#2b2b2b" stroke-width="1.5"/>
<line x1="1317.45" y1="124.25" x2="1344.05" y2="124.25" stroke="#2b2b2b" stroke-width="1.5"/>
<line x1="1317.45" y1="284.00" x2="1344.05" y2="284.00" stroke="#2b2b2b" stroke-width="1.5"/>
<line x1="1410.75" y1="285.50" x2="1410.75" y2="323.00" stroke="#2b2b2b" stroke-width="1.5"/>
<line x1="1397.45" y1="285.50" x2="1424.05" y2="285.50" stroke="#2b2b2b" stroke-width="1.5"/>
<line x1="1397.45" y1="323.00" x2="1424.05" y2="323.00" stroke="#2b2b2b" stroke-width="1.5"/>
<polyline points="1170.50,265.25 1170.50,108.40 1328.75,108.40 1328.75,114.60" fill="none" stroke="#2b2b2b" stroke-width="1.5" stroke-linejoin="miter"/>
<polyline points="1332.50,114.60 1332.50,108.40 1410.60,108.40 1410.60,278.00" fill="none" stroke="#2b2b2b" stroke-width="1.5" stroke-linejoin="miter"/>
<ellipse cx="1160.00" cy="272.75" rx="5.45" ry="6.0" fill="#000"/>
<ellipse cx="1181.25" cy="279.50" rx="5.45" ry="6.0" fill="#000"/>
<ellipse cx="1170.60" cy="291.75" rx="5.45" ry="6.0" fill="#000"/>
<ellipse cx="1160.00" cy="326.75" rx="5.45" ry="6.0" fill="#000"/>
<ellipse cx="1181.25" cy="322.50" rx="5.45" ry="6.0" fill="#000"/>
<rect x="1245.10" y="213.60" width="10.80" height="11.80" fill="#000"/>
<rect x="1245.10" y="250.10" width="10.80" height="11.80" fill="#000"/>
<rect x="1245.10" y="283.10" width="10.80" height="11.80" fill="#000"/>
<rect x="1245.10" y="307.85" width="10.80" height="11.80" fill="#000"/>
<rect x="1245.10" y="358.60" width="10.80" height="11.80" fill="#000"/>
<polygon points="1330.50,116.40 1325.15,128.20 1335.85,128.20" fill="#000"/>
<polygon points="1330.50,143.85 1325.15,155.65 1335.85,155.65" fill="#000"/>
<polygon points="1320.00,271.60 1314.65,283.40 1325.35,283.40" fill="#000"/>
<polygon points="1341.25,263.60 1335.90,275.40 1346.60,275.40" fill="#000"/>
<polygon points="1400.00,292.15 1394.65,280.35 1405.35,280.35" fill="#000"/>
<polygon points="1421.25,295.90 1415.90,284.10 1426.60,284.10" fill="#000"/>
<polygon points="1400.00,305.90 1394.65,294.10 1405.35,294.10" fill="#000"/>
<polygon points="1421.25,310.90 1415.90,299.10 1426.60,299.10" fill="#000"/>
<polygon points="1410.75,340.40 1405.40,328.60 1416.10,328.60" fill="#000"/>
<text transform="translate(0,106.76) scale(1,1.19)" x="1249.50" y="0" text-anchor="middle" font-family="'DejaVu Sans', sans-serif" font-weight="bold" font-size="18.2" stroke="#000" stroke-width="0.3">*</text>
<text transform="translate(0,106.76) scale(1,1.19)" x="1371.65" y="0" text-anchor="middle" font-family="'DejaVu Sans', sans-serif" font-weight="bold" font-size="18.2" stroke="#000" stroke-width="0.3">*</text>
<text transform="translate(1065.80,433.15) rotate(-90)" x="0" y="0" font-family="'Liberation Sans', Arial, sans-serif" font-weight="bold" font-size="26" textLength="363.87" lengthAdjust="spacingAndGlyphs">Fold change (vs RC SHAM)</text>
<text x="1017.02" y="27.90" font-family="'Liberation Sans', Arial, sans-serif" font-weight="bold" font-size="32.2" textLength="31.75" lengthAdjust="spacingAndGlyphs">C.</text>
<text x="1263.41" y="24.70" font-family="'Liberation Sans', Arial, sans-serif" font-weight="bold" font-size="26.5" textLength="54.51" lengthAdjust="spacingAndGlyphs">IL-10</text>
<text x="1219.61" y="44.60" font-family="'Liberation Sans', Arial, sans-serif" font-weight="normal" font-size="17.7" textLength="142.47" lengthAdjust="spacingAndGlyphs">ANOVA * p=0.0289</text>
<line x1="1650.30" y1="449.66" x2="1655.40" y2="449.66" stroke="#000" stroke-width="1.8"/>
<line x1="1652.80" y1="440.27" x2="1655.40" y2="440.27" stroke="#000" stroke-width="1.3"/>
<line x1="1652.80" y1="430.89" x2="1655.40" y2="430.89" stroke="#000" stroke-width="1.3"/>
<line x1="1652.80" y1="421.50" x2="1655.40" y2="421.50" stroke="#000" stroke-width="1.3"/>
<line x1="1652.80" y1="412.12" x2="1655.40" y2="412.12" stroke="#000" stroke-width="1.3"/>
<line x1="1652.80" y1="402.73" x2="1655.40" y2="402.73" stroke="#000" stroke-width="1.3"/>
<line x1="1652.80" y1="393.35" x2="1655.40" y2="393.35" stroke="#000" stroke-width="1.3"/>
<line x1="1652.80" y1="383.96" x2="1655.40" y2="383.96" stroke="#000" stroke-width="1.3"/>
<line x1="1652.80" y1="374.58" x2="1655.40" y2="374.58" stroke="#000" stroke-width="1.3"/>
<line x1="1652.80" y1="365.19" x2="1655.40" y2="365.19" stroke="#000" stroke-width="1.3"/>
<line x1="1650.30" y1="355.81" x2="1655.40" y2="355.81" stroke="#000" stroke-width="1.8"/>
<line x1="1652.80" y1="346.42" x2="1655.40" y2="346.42" stroke="#000" stroke-width="1.3"/>
<line x1="1652.80" y1="337.04" x2="1655.40" y2="337.04" stroke="#000" stroke-width="1.3"/>
<line x1="1652.80" y1="327.65" x2="1655.40" y2="327.65" stroke="#000" stroke-width="1.3"/>
<line x1="1652.80" y1="318.27" x2="1655.40" y2="318.27" stroke="#000" stroke-width="1.3"/>
<line x1="1652.80" y1="308.88" x2="1655.40" y2="308.88" stroke="#000" stroke-width="1.3"/>
<line x1="1652.80" y1="299.50" x2="1655.40" y2="299.50" stroke="#000" stroke-width="1.3"/>
<line x1="1652.80" y1="290.11" x2="1655.40" y2="290.11" stroke="#000" stroke-width="1.3"/>
<line x1="1652.80" y1="280.73" x2="1655.40" y2="280.73" stroke="#000" stroke-width="1.3"/>
<line x1="1652.80" y1="271.34" x2="1655.40" y2="271.34" stroke="#000" stroke-width="1.3"/>
<line x1="1650.30" y1="261.96" x2="1655.40" y2="261.96" stroke="#000" stroke-width="1.8"/>
<line x1="1652.80" y1="252.57" x2="1655.40" y2="252.57" stroke="#000" stroke-width="1.3"/>
<line x1="1652.80" y1="243.18" x2="1655.40" y2="243.18" stroke="#000" stroke-width="1.3"/>
<line x1="1652.80" y1="233.80" x2="1655.40" y2="233.80" stroke="#000" stroke-width="1.3"/>
<line x1="1652.80" y1="224.41" x2="1655.40" y2="224.41" stroke="#000" stroke-width="1.3"/>
<line x1="1652.80" y1="215.03" x2="1655.40" y2="215.03" stroke="#000" stroke-width="1.3"/>
<line x1="1652.80" y1="205.64" x2="1655.40" y2="205.64" stroke="#000" stroke-width="1.3"/>
<line x1="1652.80" y1="196.26" x2="1655.40" y2="196.26" stroke="#000" stroke-width="1.3"/>
<line x1="1652.80" y1="186.87" x2="1655.40" y2="186.87" stroke="#000" stroke-width="1.3"/>
<line x1="1652.80" y1="177.49" x2="1655.40" y2="177.49" stroke="#000" stroke-width="1.3"/>
<line x1="1650.30" y1="168.10" x2="1655.40" y2="168.10" stroke="#000" stroke-width="1.8"/>
<line x1="1652.80" y1="158.72" x2="1655.40" y2="158.72" stroke="#000" stroke-width="1.3"/>
<line x1="1652.80" y1="149.33" x2="1655.40" y2="149.33" stroke="#000" stroke-width="1.3"/>
<line x1="1652.80" y1="139.95" x2="1655.40" y2="139.95" stroke="#000" stroke-width="1.3"/>
<line x1="1652.80" y1="130.56" x2="1655.40" y2="130.56" stroke="#000" stroke-width="1.3"/>
<line x1="1652.80" y1="121.18" x2="1655.40" y2="121.18" stroke="#000" stroke-width="1.3"/>
<line x1="1652.80" y1="111.79" x2="1655.40" y2="111.79" stroke="#000" stroke-width="1.3"/>
<line x1="1652.80" y1="102.41" x2="1655.40" y2="102.41" stroke="#000" stroke-width="1.3"/>
<line x1="1652.80" y1="93.02" x2="1655.40" y2="93.02" stroke="#000" stroke-width="1.3"/>
<line x1="1652.80" y1="83.64" x2="1655.40" y2="83.64" stroke="#000" stroke-width="1.3"/>
<line x1="1650.30" y1="74.25" x2="1655.40" y2="74.25" stroke="#000" stroke-width="1.8"/>
<line x1="1655.40" y1="73.45" x2="1655.40" y2="450.66" stroke="#000" stroke-width="2.0"/>
<line x1="1652.90" y1="449.66" x2="2003.00" y2="449.66" stroke="#000" stroke-width="2.0"/>
<text x="1612.89" y="459.46" font-family="'Liberation Sans', Arial, sans-serif" font-weight="bold" font-size="28.8" textLength="36.23" lengthAdjust="spacingAndGlyphs">0.0</text>
<text x="1612.52" y="365.61" font-family="'Liberation Sans', Arial, sans-serif" font-weight="bold" font-size="28.8" textLength="36.23" lengthAdjust="spacingAndGlyphs">0.5</text>
<text x="1612.89" y="271.76" font-family="'Liberation Sans', Arial, sans-serif" font-weight="bold" font-size="28.8" textLength="36.23" lengthAdjust="spacingAndGlyphs">1.0</text>
<text x="1612.52" y="177.90" font-family="'Liberation Sans', Arial, sans-serif" font-weight="bold" font-size="28.8" textLength="36.23" lengthAdjust="spacingAndGlyphs">1.5</text>
<text x="1612.89" y="84.05" font-family="'Liberation Sans', Arial, sans-serif" font-weight="bold" font-size="28.8" textLength="36.23" lengthAdjust="spacingAndGlyphs">2.0</text>
<path d="M1683.90,449.66 V262.40 H1733.30 V449.66" fill="#fff" stroke="#000" stroke-width="3.8" stroke-linejoin="miter"/>
<line x1="1708.60" y1="449.66" x2="1708.60" y2="454.16" stroke="#000" stroke-width="2.0"/>
<path d="M1764.30,449.66 V245.65 H1813.70 V449.66" fill="#fff" stroke="#000" stroke-width="3.8" stroke-linejoin="miter"/>
<line x1="1789.00" y1="449.66" x2="1789.00" y2="454.16" stroke="#000" stroke-width="2.0"/>
<path d="M1844.20,449.66 V299.90 H1893.60 V449.66" fill="#fff" stroke="#000" stroke-width="3.8" stroke-linejoin="miter"/>
<line x1="1868.90" y1="449.66" x2="1868.90" y2="454.16" stroke="#000" stroke-width="2.0"/>
<path d="M1924.20,449.66 V205.00 H1973.60 V449.66" fill="#fff" stroke="#000" stroke-width="3.8" stroke-linejoin="miter"/>
<line x1="1948.90" y1="449.66" x2="1948.90" y2="454.16" stroke="#000" stroke-width="2.0"/>
<text x="1673.95" y="470.60" font-family="'Liberation Sans', Arial, sans-serif" font-weight="bold" font-size="16.5" textLength="69.30" lengthAdjust="spacingAndGlyphs">RC SHAM</text>
<text x="1763.12" y="470.60" font-family="'Liberation Sans', Arial, sans-serif" font-weight="bold" font-size="16.5" textLength="51.15" lengthAdjust="spacingAndGlyphs">RC NIR</text>
<text x="1829.75" y="470.60" font-family="'Liberation Sans', Arial, sans-serif" font-weight="bold" font-size="16.5" textLength="78.37" lengthAdjust="spacingAndGlyphs">HFD SHAM</text>
<text x="1918.48" y="470.60" font-family="'Liberation Sans', Arial, sans-serif" font-weight="bold" font-size="16.5" textLength="60.22" lengthAdjust="spacingAndGlyphs">HFD NIR</text>
<line x1="1708.60" y1="233.00" x2="1708.60" y2="287.50" stroke="#2b2b2b" stroke-width="1.5"/>
<line x1="1695.30" y1="233.00" x2="1721.90" y2="233.00" stroke="#2b2b2b" stroke-width="1.5"/>
<line x1="1695.30" y1="287.50" x2="1721.90" y2="287.50" stroke="#2b2b2b" stroke-width="1.5"/>
<line x1="1789.00" y1="205.00" x2="1789.00" y2="280.75" stroke="#2b2b2b" stroke-width="1.5"/>
<line x1="1775.70" y1="205.00" x2="1802.30" y2="205.00" stroke="#2b2b2b" stroke-width="1.5"/>
<line x1="1775.70" y1="280.75" x2="1802.30" y2="280.75" stroke="#2b2b2b" stroke-width="1.5"/>
<line x1="1868.90" y1="285.00" x2="1868.90" y2="310.00" stroke="#2b2b2b" stroke-width="1.5"/>
<line x1="1855.60" y1="285.00" x2="1882.20" y2="285.00" stroke="#2b2b2b" stroke-width="1.5"/>
<line x1="1855.60" y1="310.00" x2="1882.20" y2="310.00" stroke="#2b2b2b" stroke-width="1.5"/>
<line x1="1948.90" y1="157.50" x2="1948.90" y2="248.25" stroke="#2b2b2b" stroke-width="1.5"/>
<line x1="1935.60" y1="157.50" x2="1962.20" y2="157.50" stroke="#2b2b2b" stroke-width="1.5"/>
<line x1="1935.60" y1="248.25" x2="1962.20" y2="248.25" stroke="#2b2b2b" stroke-width="1.5"/>
<polyline points="1868.75,272.50 1868.75,144.40 1949.25,144.40 1949.25,150.00" fill="none" stroke="#2b2b2b" stroke-width="1.5" stroke-linejoin="miter"/>
<ellipse cx="1698.25" cy="232.00" rx="5.45" ry="6.0" fill="#000"/>
<ellipse cx="1719.50" cy="240.50" rx="5.45" ry="6.0" fill="#000"/>
<ellipse cx="1708.75" cy="253.00" rx="5.45" ry="6.0" fill="#000"/>
<ellipse cx="1708.75" cy="280.00" rx="5.45" ry="6.0" fill="#000"/>
<ellipse cx="1708.75" cy="296.25" rx="5.45" ry="6.0" fill="#000"/>
<rect x="1783.35" y="184.60" width="10.80" height="11.80" fill="#000"/>
<rect x="1783.35" y="213.60" width="10.80" height="11.80" fill="#000"/>
<rect x="1783.35" y="247.85" width="10.80" height="11.80" fill="#000"/>
<rect x="1783.35" y="260.35" width="10.80" height="11.80" fill="#000"/>
<rect x="1783.35" y="279.10" width="10.80" height="11.80" fill="#000"/>
<polygon points="1868.75,273.60 1863.40,285.40 1874.10,285.40" fill="#000"/>
<polygon points="1868.75,294.10 1863.40,305.90 1874.10,305.90" fill="#000"/>
<polygon points="1847.50,302.85 1842.15,314.65 1852.85,314.65" fill="#000"/>
<polygon points="1890.50,299.10 1885.15,310.90 1895.85,310.90" fill="#000"/>
<polygon points="1938.25,170.90 1932.90,159.10 1943.60,159.10" fill="#000"/>
<polygon points="1960.00,177.15 1954.65,165.35 1965.35,165.35" fill="#000"/>
<polygon points="1949.25,189.15 1943.90,177.35 1954.60,177.35" fill="#000"/>
<polygon points="1948.75,223.40 1943.40,211.60 1954.10,211.60" fill="#000"/>
<polygon points="1948.75,280.40 1943.40,268.60 1954.10,268.60" fill="#000"/>
<text transform="translate(0,142.66) scale(1,1.19)" x="1902.67 1914.83" y="0" text-anchor="middle" font-family="'DejaVu Sans', sans-serif" font-weight="bold" font-size="18.2" stroke="#000" stroke-width="0.3">**</text>
<text transform="translate(1603.70,433.15) rotate(-90)" x="0" y="0" font-family="'Liberation Sans', Arial, sans-serif" font-weight="bold" font-size="26" textLength="364.98" lengthAdjust="spacingAndGlyphs">Fold change (vs RC SHAM)</text>
<text x="1560.51" y="27.70" font-family="'Liberation Sans', Arial, sans-serif" font-weight="bold" font-size="31" textLength="29.38" lengthAdjust="spacingAndGlyphs">D.</text>
<text x="1796.01" y="24.60" font-family="'Liberation Sans', Arial, sans-serif" font-weight="bold" font-size="26.5" textLength="64.87" lengthAdjust="spacingAndGlyphs">BDNF</text>
<text x="1754.51" y="44.60" font-family="'Liberation Sans', Arial, sans-serif" font-weight="normal" font-size="17.7" textLength="148.06" lengthAdjust="spacingAndGlyphs">ANOVA ** p=0.0070</text>
</g>
</svg></body></html>
